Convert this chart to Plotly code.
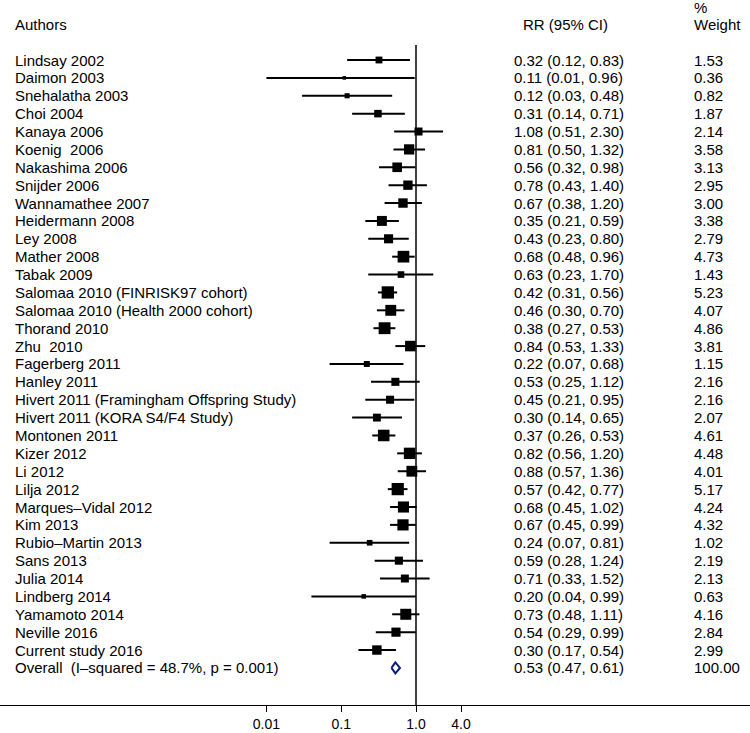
import math
import plotly.graph_objects as go

authors = ["Lindsay 2002", "Daimon 2003", "Snehalatha 2003", "Choi 2004", "Kanaya 2006",
           "Koenig\u00a0 2006", "Nakashima 2006", "Snijder 2006", "Wannamathee 2007", "Heidermann 2008",
           "Ley 2008", "Mather 2008", "Tabak 2009", "Salomaa 2010 (FINRISK97 cohort)",
           "Salomaa 2010 (Health 2000 cohort)", "Thorand 2010", "Zhu\u00a0 2010", "Fagerberg 2011",
           "Hanley 2011", "Hivert 2011 (Framingham Offspring Study)", "Hivert 2011 (KORA S4/F4 Study)",
           "Montonen 2011", "Kizer 2012", "Li 2012", "Lilja 2012", "Marques\u2013Vidal 2012", "Kim 2013",
           "Rubio\u2013Martin 2013", "Sans 2013", "Julia 2014", "Lindberg 2014", "Yamamoto 2014",
           "Neville 2016", "Current study 2016"]
rr = [0.32, 0.11, 0.12, 0.31, 1.08, 0.81, 0.56, 0.78, 0.67, 0.35, 0.43, 0.68, 0.63, 0.42, 0.46,
      0.38, 0.84, 0.22, 0.53, 0.45, 0.30, 0.37, 0.82, 0.88, 0.57, 0.68, 0.67, 0.24, 0.59, 0.71,
      0.20, 0.73, 0.54, 0.30]
lo = [0.12, 0.01, 0.03, 0.14, 0.51, 0.50, 0.32, 0.43, 0.38, 0.21, 0.23, 0.48, 0.23, 0.31, 0.30,
      0.27, 0.53, 0.07, 0.25, 0.21, 0.14, 0.26, 0.56, 0.57, 0.42, 0.45, 0.45, 0.07, 0.28, 0.33,
      0.04, 0.48, 0.29, 0.17]
hi = [0.83, 0.96, 0.48, 0.71, 2.30, 1.32, 0.98, 1.40, 1.20, 0.59, 0.80, 0.96, 1.70, 0.56, 0.70,
      0.53, 1.33, 0.68, 1.12, 0.95, 0.65, 0.53, 1.20, 1.36, 0.77, 1.02, 0.99, 0.81, 1.24, 1.52,
      0.99, 1.11, 0.99, 0.54]
weight = [1.53, 0.36, 0.82, 1.87, 2.14, 3.58, 3.13, 2.95, 3.00, 3.38, 2.79, 4.73, 1.43, 5.23, 4.07,
          4.86, 3.81, 1.15, 2.16, 2.16, 2.07, 4.61, 4.48, 4.01, 5.17, 4.24, 4.32, 1.02, 2.19, 2.13,
          0.63, 4.16, 2.84, 2.99]
overall_label = "Overall\u00a0 (I\u2013squared = 48.7%, p = 0.001)"
overall_rr, overall_lo, overall_hi, overall_w = 0.53, 0.47, 0.61, 100.00

tick_vals = [0.01, 0.1, 1.0, 4.0]
tick_text = ["0.01", "0.1", "1.0", "4.0"]

W, H = 750, 733
ROW = 17.88
TOP0 = 60.0
AX_Y = 705.0

n = len(authors)
ys = list(range(n))
y_over = n

fig = go.Figure()

# CI lines
for i in range(n):
    fig.add_trace(go.Scatter(x=[lo[i], hi[i]], y=[ys[i], ys[i]], mode="lines",
                             line=dict(color="black", width=2), hoverinfo="skip", showlegend=False))

# squares (area proportional to weight)
sizes = [max(3.6, 5.2 * math.sqrt(w) + 0.4) for w in weight]
fig.add_trace(go.Scatter(x=rr, y=ys, mode="markers",
                         marker=dict(symbol="square", size=sizes, color="black", opacity=1,
                                     line=dict(width=0, color="black")),
                         showlegend=False))

# diamond for overall
h = 5.5 / ROW
fig.add_trace(go.Scatter(x=[overall_lo, overall_rr, overall_hi, overall_rr, overall_lo],
                         y=[y_over, y_over - h, y_over, y_over + h, y_over],
                         mode="lines", fill="toself", fillcolor="white",
                         line=dict(color="#0a1a7a", width=2), showlegend=False))

# null line
fig.add_shape(type="line", xref="x", yref="y", x0=1, x1=1,
              y0=(45 - TOP0) / ROW, y1=(AX_Y - TOP0) / ROW,
              line=dict(color="black", width=1.5))

font = dict(family="Liberation Sans, Arial, Helvetica", size=15, color="black")
tfont = dict(family="Liberation Sans, Arial, Helvetica", size=14, color="black")
ann = []
labels = authors + [overall_label]
rrs = rr + [overall_rr]
los = lo + [overall_lo]
his = hi + [overall_hi]
ws = weight + [overall_w]
for i in range(n + 1):
    ann.append(dict(x=12.5 / W, y=i, xref="paper", yref="y", text=labels[i], showarrow=False,
                    xanchor="left", yanchor="middle", font=font))
    ann.append(dict(x=511.5 / W, y=i, xref="paper", yref="y",
                    text=f"{rrs[i]:.2f} ({los[i]:.2f}, {his[i]:.2f})", showarrow=False,
                    xanchor="left", yanchor="middle", font=font))
    ann.append(dict(x=691.5 / W, y=i, xref="paper", yref="y", text=f"{ws[i]:.2f}", showarrow=False,
                    xanchor="left", yanchor="middle", font=font))
hy = (24 - TOP0) / ROW
ann.append(dict(x=12.5 / W, y=hy, xref="paper", yref="y", text="Authors", showarrow=False,
                xanchor="left", yanchor="middle", font=font))
ann.append(dict(x=521 / W, y=hy, xref="paper", yref="y", text="RR (95% CI)", showarrow=False,
                xanchor="left", yanchor="middle", font=font))
ann.append(dict(x=691.5 / W, y=hy, xref="paper", yref="y", text="Weight", showarrow=False,
                xanchor="left", yanchor="middle", font=font))
ann.append(dict(x=691.5 / W, y=(7 - TOP0) / ROW, xref="paper", yref="y", text="%", showarrow=False,
                xanchor="left", yanchor="middle", font=font))

px_dec = 74.8
x0 = -416 / px_dec
x1 = (W - 416) / px_dec

fig.update_layout(
    width=W, height=H,
    margin=dict(l=0, r=0, t=0, b=H - AX_Y, pad=0),
    paper_bgcolor="white", plot_bgcolor="white",
    annotations=ann,
    showlegend=False,
    xaxis=dict(type="log", range=[x0, x1], tickvals=tick_vals, ticktext=tick_text,
               showgrid=False, zeroline=False, showline=True, linecolor="black", linewidth=1.3,
               ticks="outside", ticklen=6, tickcolor="black", tickwidth=1.3,
               tickfont=tfont, fixedrange=True, automargin=False),
    yaxis=dict(range=[(AX_Y - TOP0) / ROW, -TOP0 / ROW], visible=False, showgrid=False,
               zeroline=False, fixedrange=True),
)

fig.write_html("out.html", config={"displayModeBar": False},
               post_script="document.body.style.margin='0px';")
